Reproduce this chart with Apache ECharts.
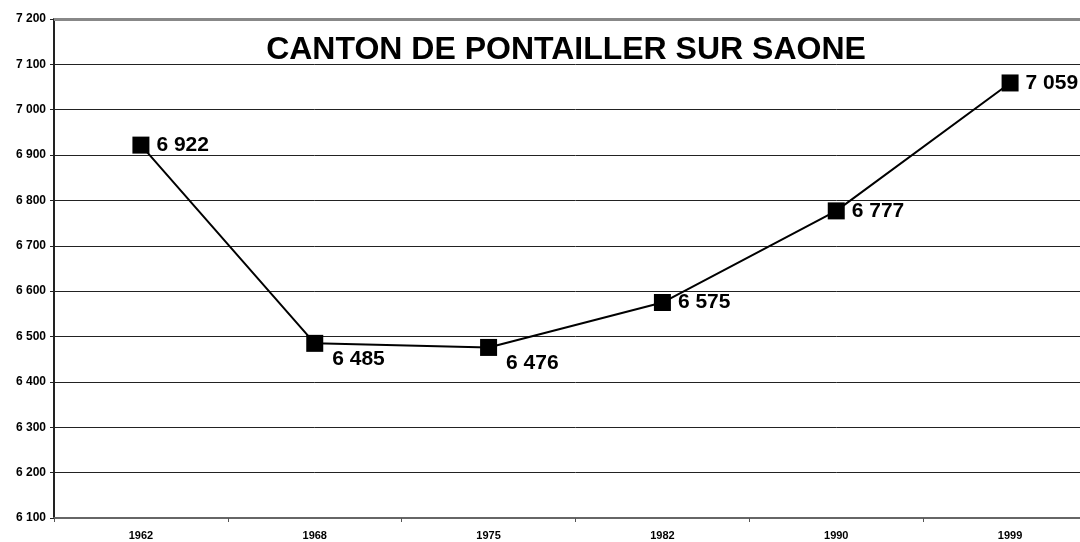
<!DOCTYPE html>
<html>
<head>
<meta charset="utf-8">
<script src="https://cdn.jsdelivr.net/npm/echarts@6/dist/echarts.min.js"></script>
<style>
  html, body { margin: 0; padding: 0; background: #fff; overflow: hidden; width: 1080px; height: 542px; }
  #chart { width: 1097px; height: 542px; }
</style>
</head>
<body>
<div id="chart"></div>
<script>
// population du canton par recensement
var years = ['1962', '1968', '1975', '1982', '1990', '1999'];
var population = [6922, 6485, 6476, 6575, 6777, 7059];
// where each value label sits around its marker
var labelSides = ['right', 'below', 'below', 'right', 'right', 'right'];

function fmt(v) {
  return String(v).replace(/\B(?=(\d{3})+(?!\d))/g, ' ');
}

var chart = echarts.init(document.getElementById('chart'));

var seriesData = population.map(function (v, i) {
  var lbl = labelSides[i] === 'below'
    ? { position: 'right', offset: [4, 16] }
    : { position: 'right', offset: [2, 0] };
  return { value: v, label: lbl };
});

var option = {
  backgroundColor: '#fff',
  animation: false,
  title: {
    text: 'CANTON DE PONTAILLER SUR SAONE',
    left: 561,
    top: 29,
    textAlign: 'center',
    textStyle: {
      fontFamily: 'Liberation Sans',
      fontSize: 32,
      fontWeight: 'bold',
      color: '#000'
    }
  },
  grid: { left: 54, right: 0, top: 19, bottom: 24 },
  xAxis: {
    type: 'category',
    data: years,
    boundaryGap: true,
    axisLine: { lineStyle: { color: '#666', width: 2 } },
    axisTick: { show: true, length: 4, lineStyle: { color: '#555' } },
    axisLabel: {
      margin: 12,
      fontFamily: 'Liberation Sans',
      fontSize: 11,
      fontWeight: 'bold',
      color: '#000'
    }
  },
  yAxis: {
    type: 'value',
    min: 6100,
    max: 7200,
    interval: 100,
    axisLine: { show: true, lineStyle: { color: '#222', width: 2 } },
    axisTick: { show: true, length: 4, lineStyle: { color: '#222' } },
    splitLine: { lineStyle: { color: '#222', width: 1 } },
    axisLabel: {
      margin: 8,
      formatter: fmt,
      fontFamily: 'Liberation Sans',
      fontSize: 12,
      fontWeight: 'bold',
      color: '#000'
    }
  },
  series: [{
    type: 'line',
    data: seriesData,
    symbol: 'rect',
    symbolSize: 17,
    itemStyle: { color: '#000' },
    lineStyle: { color: '#000', width: 2 },
    label: {
      show: true,
      formatter: function (p) { return fmt(p.value); },
      fontFamily: 'Liberation Sans',
      fontSize: 21,
      fontWeight: 'bold',
      color: '#000'
    },
    markLine: {
      silent: true,
      symbol: 'none',
      label: { show: false },
      lineStyle: { color: '#888', width: 3, type: 'solid' },
      data: [{ yAxis: 7200 }]
    }
  }]
};

chart.setOption(option);
</script>
</body>
</html>
